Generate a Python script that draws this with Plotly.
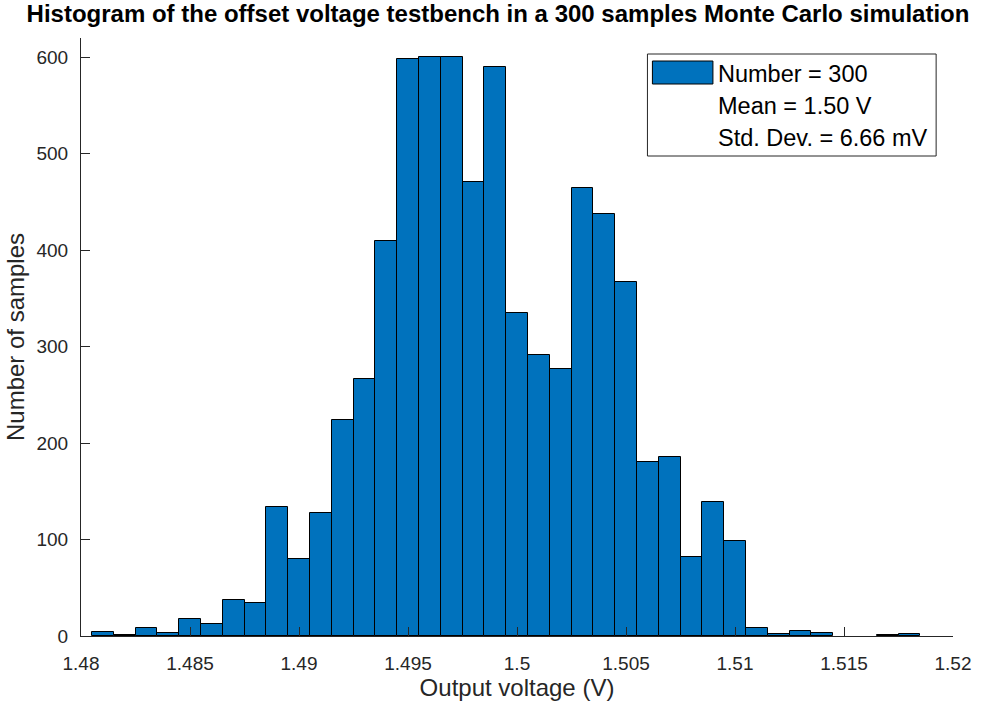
import plotly.graph_objects as go

# Bin centres (V) and counts
bin_centers = [1.481, 1.482, 1.483, 1.484, 1.485, 1.486, 1.487, 1.488, 1.489, 1.490,
               1.491, 1.492, 1.493, 1.494, 1.495, 1.496, 1.497, 1.498, 1.499, 1.500,
               1.501, 1.502, 1.503, 1.504, 1.505, 1.506, 1.507, 1.508, 1.509, 1.510,
               1.511, 1.512, 1.513, 1.514, 1.515, 1.516, 1.517, 1.518]
counts = [4, 1, 8, 3, 18, 12, 37, 34, 134, 80,
          128, 224, 266, 410, 598, 600, 600, 471, 590, 335,
          291, 277, 464, 438, 367, 180, 186, 82, 139, 98,
          8, 2, 5, 3, 0, 0, 1, 2]
bin_width = 0.001

x_ticks = [1.48, 1.485, 1.49, 1.495, 1.5, 1.505, 1.51, 1.515, 1.52]
x_tick_labels = ["1.48", "1.485", "1.49", "1.495", "1.5", "1.505", "1.51", "1.515", "1.52"]
y_ticks = [0, 100, 200, 300, 400, 500, 600]

legend_lines = ["Number = 300", "Mean = 1.50 V", "Std. Dev. = 6.66 mV"]

BAR_COLOR = "#0072BD"
AX_COLOR = "#262626"
FONT = "Liberation Sans, Arial, Helvetica, sans-serif"

fig = go.Figure()
fig.add_trace(go.Bar(
    x=bin_centers,
    y=[c if c > 0 else None for c in counts],
    width=[bin_width] * len(bin_centers),
    marker=dict(color=BAR_COLOR, line=dict(color="black", width=1)),
    showlegend=False,
))

# Plot area geometry in pixels
W, H = 983, 709
L, R, T, B = 81, 23, 38, 73
pw, ph = W - L - R, H - T - B

def px(xp):
    return (xp - L) / pw

def py(yp):
    return (H - B - yp) / ph

shapes = []
annotations = []
# legend box
shapes.append(dict(type="rect", xref="paper", yref="paper",
                   x0=px(652), x1=px(943), y0=py(156), y1=py(54),
                   line=dict(color=AX_COLOR, width=1), fillcolor="white", layer="above"))
# legend patch
shapes.append(dict(type="rect", xref="paper", yref="paper",
                   x0=px(657), x1=px(718), y0=py(84), y1=py(61),
                   line=dict(color="black", width=1), fillcolor=BAR_COLOR, layer="above"))
for i, txt in enumerate(legend_lines):
    annotations.append(dict(xref="paper", yref="paper", x=px(721), y=py(74 + 32 * i),
                            xanchor="left", yanchor="middle", showarrow=False,
                            text=txt, font=dict(family=FONT, size=23.5, color="black")))

fig.update_layout(
    width=W, height=H,
    margin=dict(l=L, r=R, t=T, b=B, pad=0),
    paper_bgcolor="white", plot_bgcolor="white",
    bargap=0,
    font=dict(family=FONT, color=AX_COLOR),
    title=dict(text="<b>Histogram of the offset voltage testbench in a 300 samples Monte Carlo simulation</b>",
               x=498 / W, xanchor="center", y=1 - 14 / H, yanchor="middle",
               font=dict(family=FONT, size=24, color="black")),
    xaxis=dict(range=[1.48, 1.52], tickvals=x_ticks, ticktext=x_tick_labels,
               ticks="inside", ticklen=9, tickcolor=AX_COLOR, tickwidth=1,
               showline=True, linecolor=AX_COLOR, linewidth=1, mirror=False,
               showgrid=False, zeroline=False,
               tickfont=dict(family=FONT, size=19, color=AX_COLOR),
               ticklabelstandoff=10,
               title=dict(text="Output voltage (V)", standoff=6,
                          font=dict(family=FONT, size=24, color=AX_COLOR))),
    yaxis=dict(range=[0, 620], tickvals=y_ticks,
               ticks="inside", ticklen=9, tickcolor=AX_COLOR, tickwidth=1,
               showline=True, linecolor=AX_COLOR, linewidth=1, mirror=False,
               showgrid=False, zeroline=False,
               tickfont=dict(family=FONT, size=19, color=AX_COLOR),
               ticklabelstandoff=8,
               title=dict(text="Number of samples", standoff=5,
                          font=dict(family=FONT, size=24, color=AX_COLOR))),
    shapes=shapes,
    annotations=annotations,
)

fig.write_html("out.html")
